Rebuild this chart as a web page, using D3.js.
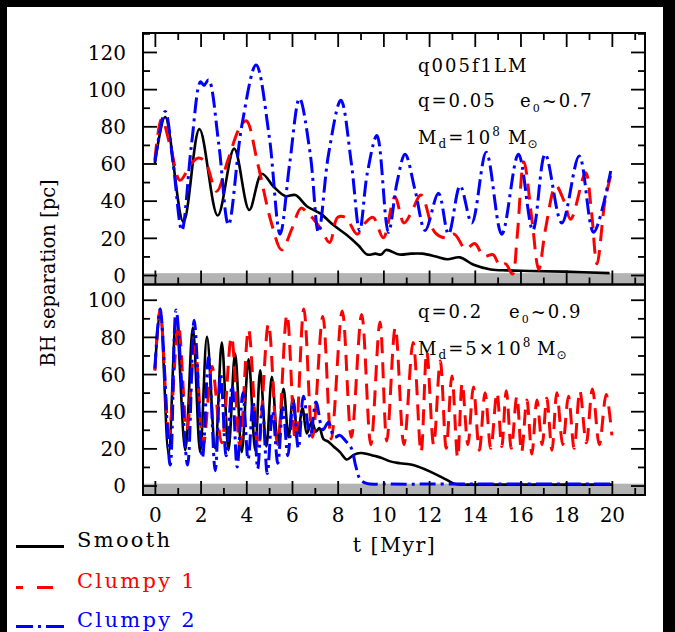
<!DOCTYPE html>
<html lang="en">
<head>
<meta charset="utf-8" />
<title>BH separation</title>
<script src="https://cdn.jsdelivr.net/npm/d3@7"></script>
<style>
  body { margin:0; background:#fff; }
  svg { display:block; }
</style>
</head>
<body>
<script>
// ---- data: [t (Myr), separation (pc)] ----
var topSmooth = [[0,60],[0.45,85],[1.25,28.5],[1.95,78.5],[2.75,32],[3.47,68],[4.13,35],[4.68,54.5],
  [5.2,47.5],[5.7,42.5],[6.15,43],[6.65,37],[7.25,33],[7.8,27],[8.4,21.5],[8.9,16],[9.3,11],[9.65,11.5],
  [9.9,11],[10.12,13.5],[10.7,11],[11.2,11.5],[11.7,11.5],[12.3,10],[12.8,8.5],[13.35,9.5],[13.95,5.5],
  [14.7,3],[15.4,2.5],[16.4,2.2],[17.9,1.8],[19.9,1]];
var topClumpy1 = [[0,62],[0.3,84],[0.7,68],[1.1,51],[1.6,60],[1.9,63],[2.2,61],[2.7,45],[3.2,62],[3.7,79],
  [4.0,83],[4.5,60],[5.1,28],[5.55,13.5],[6.0,25],[6.4,36],[6.7,33],[6.95,30],[7.3,24],[7.65,17.5],[8.0,31],
  [8.35,31],[8.85,22],[9.2,28],[9.55,31],[10.0,20],[10.5,42],[10.9,28],[11.2,33],[11.65,43],[12.25,23],
  [12.7,20],[13.1,22],[13.6,14],[14.0,17],[14.4,10],[14.8,11],[15.1,5],[15.35,6],[15.65,0.5],[15.85,20],
  [16.15,61],[16.5,30],[16.8,3],[17.1,25],[17.55,48],[17.9,40],[18.2,30],[18.85,55],[19.1,35],[19.35,6],
  [19.7,40],[20.0,56]];
var topClumpy2 = [[0,61],[0.45,88],[0.8,60],[1.18,24],[1.6,70],[2.0,104],[2.15,102],[2.35,105],[2.8,70],
  [3.22,27],[3.8,80],[4.43,113],[5.0,75],[5.48,22],[5.9,60],[6.33,95],[6.8,65],[7.16,23],[7.6,65],[8.14,94],
  [8.6,60],[8.96,24],[9.3,55],[9.72,75],[10.22,23],[10.6,50],[10.95,65],[11.4,45],[11.83,24],[12.41,44],
  [12.85,22],[13.36,48],[13.87,28],[14.5,66],[15.18,22],[15.91,65],[16.54,24],[17.08,65],[17.81,28],
  [18.57,64],[19.2,23],[19.95,56]];

var botSmooth = [[0,62],[0.23,94.5],[0.6,17],[0.93,89.5],[1.33,19],[1.66,85],[1.98,18],[2.28,80],[2.64,20],
  [2.93,77],[3.22,19],[3.51,71],[3.8,18],[4.1,68],[4.39,19],[4.61,62],[4.88,21],[5.12,58.5],[5.38,23],
  [5.63,52],[5.85,26],[6.04,47],[6.25,28],[6.46,41.5],[6.65,28],[6.87,34.5],[7.05,29],[7.2,31],[7.38,25],
  [7.6,23.5],[7.82,21],[8.1,18],[8.4,14],[8.7,16.5],[9.0,17.5],[9.3,17],[9.6,16],[9.9,15],[10.3,13],
  [10.73,12],[11.3,11],[12.05,7.5],[12.78,3],[13.15,0.8],[14,0.5],[16,0.5],[18,0.5],[20,0.5]];
var botClumpy1 = [[0,62],[0.23,95],[0.62,28],[1.03,86],[1.4,30],[1.75,75],[2.12,22],[2.5,64],[2.92,23],
  [3.35,80],[3.72,21],[4.1,84],[4.52,20],[4.97,87],[5.37,22],[5.78,92],[6.15,24],[6.52,95],[6.9,26],
  [7.35,91],[7.72,25],[8.2,94],[8.6,26],[9.05,92],[9.45,22],[9.85,88],[10.15,24],[10.52,85],[10.9,22],
  [11.3,77],[11.65,18],[11.9,72],[12.2,22],[12.49,67],[12.75,20],[13.0,59],[13.25,15],[13.45,55],[13.7,22],
  [13.94,53],[14.2,19],[14.45,50],[14.7,20],[14.97,50],[15.18,21],[15.38,51],[15.6,20],[15.84,48],
  [16.05,18],[16.28,46],[16.5,17],[16.72,46],[16.95,22],[17.15,47],[17.38,19],[17.59,50],[17.85,22],
  [18.1,48],[18.35,20],[18.6,51],[18.88,23],[19.15,52],[19.45,22],[19.75,49],[20.0,27]];
var botClumpy2 = [[0,63],[0.23,95],[0.67,11],[0.93,94.5],[1.43,11],[1.72,89],[2.08,15],[2.35,69],[2.64,8],
  [2.88,60],[3.12,16],[3.38,54],[3.6,10],[3.85,50],[4.08,14],[4.3,45],[4.5,9],[4.7,43],[4.92,6.5],
  [5.15,40],[5.38,12],[5.6,42],[5.82,16],[6.05,45],[6.28,20],[6.5,48],[6.8,26],[7.05,45],[7.35,30],
  [7.6,34],[7.85,26],[8.1,27],[8.35,24],[8.6,20],[8.8,10],[9.0,3],[9.3,1],[10,0.8],[14,0.8],[20,0.8]];

var xMajor = [0,2,4,6,8,10,12,14,16,18,20];
var xMinor = [1,3,5,7,9,11,13,15,17,19,21];
var topYMajor = [0,20,40,60,80,100,120];
var topYMinor = [10,30,50,70,90,110,130];
var botYMajor = [0,20,40,60,80,100];
var botYMinor = [10,30,50,70,90];

var seriesNames = ['Smooth','Clumpy 1','Clumpy 2'];
var seriesColors = ['#000000','#ff0000','#0000ff'];

// ---- layout ----
var W = 675, H = 632;
var L = 143, R = 645, T = 33, MID = 284.5, B = 495;
var FONT = 'DejaVu Serif';

var svg = d3.select('body').append('svg').attr('width',W).attr('height',H);
svg.append('rect').attr('width',W).attr('height',H).attr('fill','#fff');
// dark edges of the scanned figure
svg.append('rect').attr('x',0).attr('y',0).attr('width',W).attr('height',7).attr('fill','#000');
svg.append('rect').attr('x',0).attr('y',0).attr('width',7).attr('height',H).attr('fill','#000');
svg.append('rect').attr('x',663).attr('y',0).attr('width',12).attr('height',H).attr('fill','#000');

var x = d3.scaleLinear().domain([-0.52,21.45]).range([L,R]);
var yTop = d3.scaleLinear().domain([-5.1,130.2]).range([MID,T]);
var yBot = d3.scaleLinear().domain([-5.1,108.2]).range([B,MID]);

function drawPanel(y, data, yMajor, yMinor, top, bottom, xLabels) {
  var g = svg.append('g');
  // grey strip below zero
  g.append('rect')
    .attr('x',L).attr('width',R-L)
    .attr('y',y(1)).attr('height',y(-5.1)-y(1))
    .attr('fill','#b3b3b3');

  var line = d3.line()
    .x(function(d){return x(d[0]);})
    .y(function(d){return y(d[1]);})
    .curve(d3.curveCatmullRom.alpha(0.5));

  var dashes = [null,'16,9','16,5,3,5'];
  var widths = [2.6,3,3];
  data.forEach(function(s,i){
    g.append('path')
      .attr('d',line(s))
      .attr('fill','none')
      .attr('stroke',seriesColors[i])
      .attr('stroke-width',widths[i])
      .attr('stroke-dasharray',dashes[i]);
  });

  // ticks, all pointing inwards
  function ax(axis, tx, ty, vals, size, fmt) {
    var a = g.append('g').attr('transform','translate('+tx+','+ty+')')
      .call(axis.tickValues(vals).tickSize(size).tickPadding(17).tickFormat(fmt));
    a.select('.domain').remove();
    a.selectAll('line').attr('stroke','#000').attr('stroke-width',1.8);
    return a;
  }
  var noLab = function(){return '';};
  var yl = ax(d3.axisLeft(y), L, 0, yMajor, -14, d3.format('d'));
  yl.selectAll('text').attr('font-family',FONT).attr('font-size',20).attr('fill','#000').attr('dy','0.36em');
  ax(d3.axisLeft(y), L, 0, yMinor, -7, noLab);
  ax(d3.axisRight(y), R, 0, yMajor, -14, noLab);
  ax(d3.axisRight(y), R, 0, yMinor, -7, noLab);
  if (top) {
    ax(d3.axisTop(x), 0, top, xMajor, -14, noLab);
    ax(d3.axisTop(x), 0, top, xMinor, -7, noLab);
  }
  var xb = ax(d3.axisBottom(x), 0, bottom, xMajor, -14, xLabels ? d3.format('d') : noLab);
  xb.selectAll('text').attr('font-family',FONT).attr('font-size',20).attr('fill','#000')
    .attr('y',27).attr('dy',0);
  ax(d3.axisBottom(x), 0, bottom, xMinor, -7, noLab);

  g.append('rect')
    .attr('x',L).attr('y',y.range()[1]).attr('width',R-L).attr('height',y.range()[0]-y.range()[1])
    .attr('fill','none').attr('stroke','#000').attr('stroke-width',2);
}

drawPanel(yTop, [topSmooth,topClumpy1,topClumpy2], topYMajor, topYMinor, T, MID, false);
drawPanel(yBot, [botSmooth,botClumpy1,botClumpy2], botYMajor, botYMinor, null, B, true);

// ---- labels ----
function txt(px, py, size, ls) {
  return svg.append('text').attr('x',px).attr('y',py)
    .attr('font-family',FONT).attr('font-size',size)
    .attr('letter-spacing',ls||0).attr('fill','#000');
}

txt(48, 273, 19.5).attr('text-anchor','middle')
  .attr('transform','rotate(-90,48,273)').attr('dy','0.35em')
  .text('BH separation [pc]');
txt(394.5, 552, 20.5, 1.5).attr('text-anchor','middle').text('t [Myr]');

// panel notes
function eText(px, py, val) {
  var t = txt(px, py, 18, 2);
  t.append('tspan').text('e');
  t.append('tspan').attr('font-size',11).attr('dy',5).text('0');
  t.append('tspan').attr('dy',-5).text('~' + val);
}
function mText(px, py, pre) {
  var t = txt(px, py, 18, 2);
  t.append('tspan').text('M');
  t.append('tspan').attr('font-size',12).attr('dy',4).text('d');
  t.append('tspan').attr('dy',-4).text('=' + pre + '10');
  t.append('tspan').attr('font-size',12).attr('dy',-8).text('8');
}
function sunText(px, py) {
  var t = txt(px, py, 18, 1);
  t.append('tspan').text('M');
  t.append('tspan').attr('font-family','DejaVu Sans').attr('font-size',12).attr('dy',4).text('\u2299');
}

txt(418, 71.5, 18, 2).text('q005f1LM');
txt(418, 107, 18, 2).text('q=0.05');
eText(520, 107, '0.7');
mText(418, 144, '');
sunText(508, 144);

txt(418, 318, 18, 2).text('q=0.2');
eText(509, 318, '0.9');
mText(418, 355, '5\u00d7');
sunText(537, 355);

// ---- legend ----
var legY = [547, 588, 627];
var legDash = [null, '7,14,16,40', '17,5,3,5,18,40'];
var legEnd = [64, 53, 64];
seriesNames.forEach(function(n,i){
  svg.append('line')
    .attr('x1',16).attr('x2',legEnd[i]).attr('y1',legY[i]-0.5).attr('y2',legY[i]-0.5)
    .attr('stroke',seriesColors[i]).attr('stroke-width',3)
    .attr('stroke-dasharray',legDash[i]);
  txt(77, legY[i], 21, 2.3).attr('fill',seriesColors[i]).text(n);
});
</script>
</body>
</html>
